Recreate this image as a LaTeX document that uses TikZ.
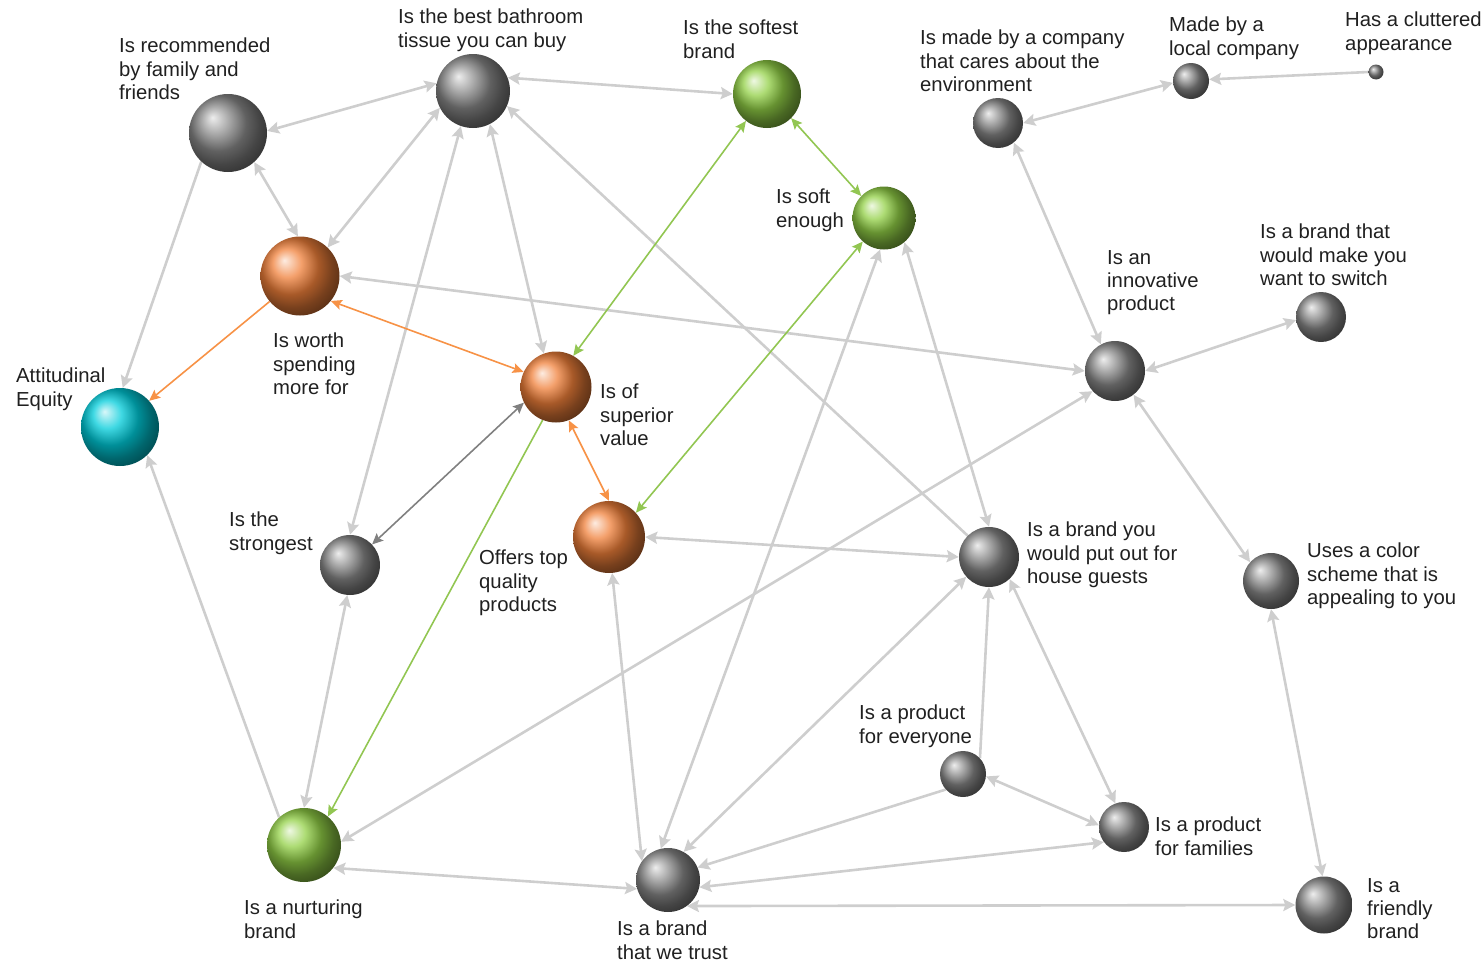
\documentclass[tikz,border=0pt]{standalone}
\usepackage{fontspec}
\setmainfont{Liberation Sans}
\usetikzlibrary{arrows.meta,backgrounds}

\definecolor{sphgrey}{RGB}{138,138,138}
\definecolor{sphorange}{RGB}{240,128,58}
\definecolor{sphgreen}{RGB}{146,208,70}
\definecolor{sphcyan}{RGB}{0,204,218}
\definecolor{linkgrey}{RGB}{206,206,206}
\definecolor{linkorange}{RGB}{247,146,70}
\definecolor{linkgreen}{RGB}{146,198,82}
\definecolor{linkdark}{RGB}{128,128,128}
\definecolor{lbltext}{RGB}{32,32,32}

\newcommand{\lblfont}{\fontsize{20.3}{23.3}\selectfont}

\tikzset{
  sphere/.style={circle, inner sep=0pt, minimum size=#1, shading=ball},
  grey/.style={ball color=sphgrey},
  lbl/.style={anchor=north west, inner sep=0pt, align=left, font=\lblfont, text=lbltext},
  link/.style={draw=linkgrey, line width=2.6pt, >={Stealth[length=12pt,width=12pt,inset=2pt]}},
  orangelink/.style={draw=linkorange, line width=1.6pt, >={Stealth[length=11pt,width=10pt,inset=2pt]}},
  greenlink/.style={draw=linkgreen, line width=1.6pt, >={Stealth[length=11pt,width=10pt,inset=2pt]}},
  darklink/.style={draw=linkdark, line width=1.6pt, >={Stealth[length=11pt,width=10pt,inset=2pt]}}
}

\begin{document}
\begin{tikzpicture}[x=1pt, y=-1pt]
  \useasboundingbox (0,0) rectangle (1484,964);

  % spheres
  \node[sphere=78, grey] (rec) at (228,133) {};
  \node[sphere=74, grey] (best) at (473,91) {};
  \node[sphere=68, ball color=sphgreen] (softest) at (767,94) {};
  \node[sphere=63, ball color=sphgreen] (softenough) at (884,218) {};
  \node[sphere=50, grey] (env) at (998,123) {};
  \node[sphere=36, grey] (local) at (1191,81) {};
  \node[sphere=15, grey] (clutter) at (1376,72) {};
  \node[sphere=79, ball color=sphorange] (worth) at (300,276) {};
  \node[sphere=71, ball color=sphorange] (superior) at (556,387) {};
  \node[sphere=60, grey] (innov) at (1115,371) {};
  \node[sphere=50, grey] (switch) at (1321,317) {};
  \node[sphere=78, ball color=sphcyan] (equity) at (120,427) {};
  \node[sphere=60, grey] (strongest) at (350,565) {};
  \node[sphere=72, ball color=sphorange] (topq) at (609,537) {};
  \node[sphere=60, grey] (guests) at (989,557) {};
  \node[sphere=56, grey] (color) at (1271,581) {};
  \node[sphere=46, grey] (everyone) at (963,774) {};
  \node[sphere=50, grey] (families) at (1124,827) {};
  \node[sphere=74, ball color=sphgreen] (nurturing) at (304,845) {};
  \node[sphere=64, grey] (trust) at (668,880) {};
  \node[sphere=57, grey] (friendly) at (1324,905) {};

  % labels
  \node[lbl] (t-rec) at (119,38) {Is recommended\\by family and\\friends};
  \node[lbl] (t-best) at (398,9) {Is the best bathroom\\tissue you can buy};
  \node[lbl] (t-softest) at (683,20) {Is the softest\\brand};
  \node[lbl] (t-env) at (920,30) {Is made by a company\\that cares about the\\environment};
  \node[lbl] (t-local) at (1169,17) {Made by a\\local company};
  \node[lbl] (t-clutter) at (1345,12) {Has a cluttered\\appearance};
  \node[lbl] (t-softenough) at (776,189) {Is soft\\enough};
  \node[lbl] (t-worth) at (273,333) {Is worth\\spending\\more for};
  \node[lbl] (t-superior) at (600,384) {Is of\\superior\\value};
  \node[lbl] (t-innov) at (1107,250) {Is an\\innovative\\product};
  \node[lbl] (t-switch) at (1260,224) {Is a brand that\\would make you\\want to switch};
  \node[lbl] (t-equity) at (16,368) {Attitudinal\\Equity};
  \node[lbl] (t-strongest) at (229,512) {Is the\\strongest};
  \node[lbl] (t-topq) at (479,550) {Offers top\\quality\\products};
  \node[lbl] (t-guests) at (1027,522) {Is a brand you\\would put out for\\house guests};
  \node[lbl] (t-color) at (1307,543) {Uses a color\\scheme that is\\appealing to you};
  \node[lbl] (t-everyone) at (859,705) {Is a product\\for everyone};
  \node[lbl] (t-families) at (1155,817) {Is a product\\for families};
  \node[lbl] (t-nurturing) at (244,900) {Is a nurturing\\brand};
  \node[lbl] (t-trust) at (617,921) {Is a brand\\that we trust};
  \node[lbl] (t-friendly) at (1367,878) {Is a\\friendly\\brand};

  % connectors
  \begin{scope}[on background layer]
    \draw[link, <->] (rec.3) -- (best.168);
    \draw[link, <->] (rec.-48) -- (worth.93);
    \draw[link, ->] (rec.227) -- (equity.86);
    \draw[link, <->] (best.207) -- (worth.46);
    \draw[link, <->] (best.251) -- (strongest.90);
    \draw[link, <->] (best.-63) -- (superior.110);
    \draw[link, <->] (best.21) -- (softest.180);
    \draw[link, ->] (guests.135) -- (best.-24);
    \draw[link, <->] (worth.0) -- (innov.180);
    \draw[link, ->] (nurturing.132) -- (equity.-46);
    \draw[link, <->] (strongest.-95) -- (nurturing.90);
    \draw[link, <->] (innov.222) -- (nurturing.5);
    \draw[link, <->] (nurturing.-38) -- (trust.196);
    \draw[link, <->] (topq.0) -- (guests.180);
    \draw[link, <->] (topq.-85) -- (trust.144);
    \draw[link, <->] (softenough.263) -- (trust.103);
    \draw[link, <->] (softenough.-50) -- (guests.90);
    \draw[link, <->] (env.-51) -- (innov.118);
    \draw[link, <->] (env.0) -- (local.186);
    \draw[link, ->] (clutter.180) -- (local.5);
    \draw[link, <->] (innov.0) -- (switch.187);
    \draw[link, <->] (innov.-52) -- (color.138);
    \draw[link, <->] (color.-90) -- (friendly.93);
    \draw[link, <->] (trust.-54) -- (friendly.180);
    \draw[link, <->] (trust.-13) -- (families.217);
    \draw[link, <->] (guests.221) -- (trust.61);
    \draw[link, <->] (guests.-47) -- (families.110);
    \draw[link, ->] (everyone.222) -- (trust.23);
    \draw[link, ->] (everyone.43) -- (guests.-90);
    \draw[link, <->] (everyone.-6) -- (families.176);
    \draw[orangelink, ->] (worth.220) -- (equity.42);
    \draw[orangelink, <->] (superior.155) -- (worth.-39);
    \draw[orangelink, <->] (superior.-69) -- (topq.90);
    \draw[greenlink, <->] (softest.232) -- (superior.61);
    \draw[greenlink, <->] (softest.-45) -- (softenough.136);
    \draw[greenlink, <->] (softenough.228) -- (topq.42);
    \draw[greenlink, ->] (superior.248) -- (nurturing.50);
    \draw[darklink, <->] (strongest.43) -- (superior.206);
  \end{scope}
\end{tikzpicture}
\end{document}
